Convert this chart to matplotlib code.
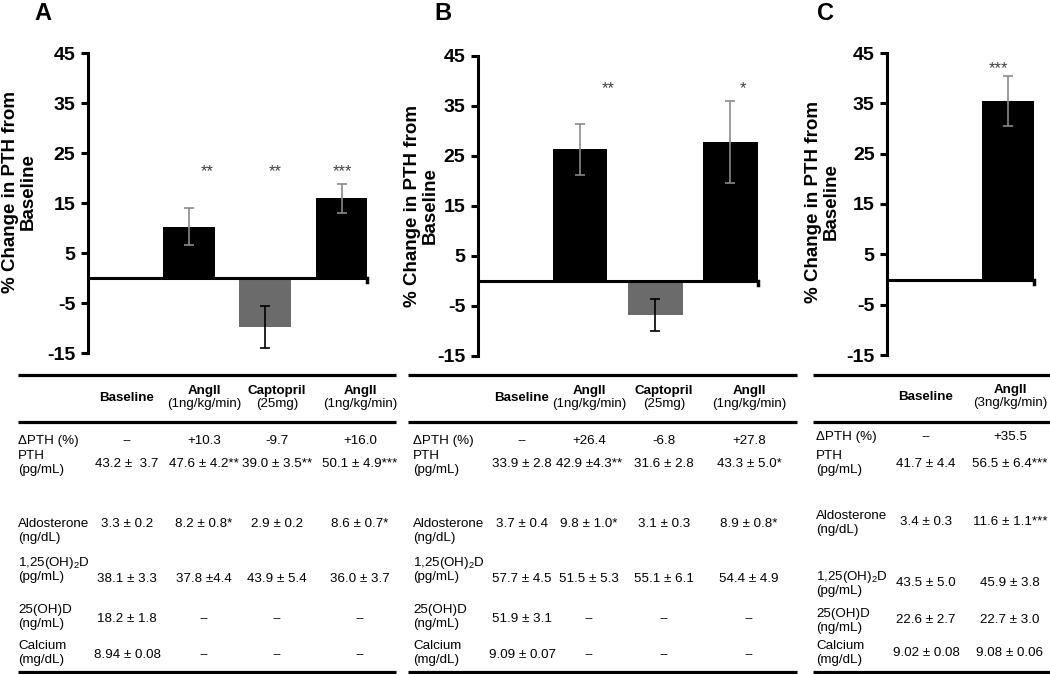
import matplotlib.pyplot as plt
import numpy as np

plt.rcParams['font.family'] = ['Liberation Sans', 'DejaVu Sans']
plt.rcParams['mathtext.default'] = 'regular'
plt.rcParams['axes.unicode_minus'] = False

W, H = 1050, 674

# percent change in PTH from baseline (bars), mean and SEM
a_groups = ['Baseline', 'AngII', 'Captopril', 'AngII']
a_change = [0.0, 10.3, -9.7, 16.0]
a_sem = [0.0, 3.7, 4.2, 2.9]
a_sig = ['', '**', '**', '***']

b_groups = ['Baseline', 'AngII', 'Captopril', 'AngII']
b_change = [0.0, 26.4, -6.8, 27.8]
b_sem = [0.0, 5.1, 3.2, 8.2]
b_sig = ['', '**', '', '*']

c_groups = ['Baseline', 'AngII']
c_change = [0.0, 35.5]
c_sem = [0.0, 5.0]
c_sig = ['', '***']

yticks = [-15, -5, 5, 15, 25, 35, 45]

# tables
row_labels = [('\u0394PTH (%)', ''), ('PTH', '(pg/mL)'), ('Aldosterone', '(ng/dL)'),
              ('1,25(OH)$_2$D', '(pg/mL)'), ('25(OH)D', '(ng/mL)'), ('Calcium', '(mg/dL)')]

a_doses = ['', '(1ng/kg/min)', '(25mg)', '(1ng/kg/min)']
a_cells = [['--', '+10.3', '-9.7', '+16.0'],
           ['43.2 \u00b1  3.7', '47.6 \u00b1 4.2**', '39.0 \u00b1 3.5**', '50.1 \u00b1 4.9***'],
           ['3.3 \u00b1 0.2', '8.2 \u00b1 0.8*', '2.9 \u00b1 0.2', '8.6 \u00b1 0.7*'],
           ['38.1 \u00b1 3.3', '37.8 \u00b14.4', '43.9 \u00b1 5.4', '36.0 \u00b1 3.7'],
           ['18.2 \u00b1 1.8', '--', '--', '--'],
           ['8.94 \u00b1 0.08', '--', '--', '--']]

b_doses = ['', '(1ng/kg/min)', '(25mg)', '(1ng/kg/min)']
b_cells = [['--', '+26.4', '-6.8', '+27.8'],
           ['33.9 \u00b1 2.8', '42.9 \u00b14.3**', '31.6 \u00b1 2.8', '43.3 \u00b1 5.0*'],
           ['3.7 \u00b1 0.4', '9.8 \u00b1 1.0*', '3.1 \u00b1 0.3', '8.9 \u00b1 0.8*'],
           ['57.7 \u00b1 4.5', '51.5 \u00b1 5.3', '55.1 \u00b1 6.1', '54.4 \u00b1 4.9'],
           ['51.9 \u00b1 3.1', '--', '--', '--'],
           ['9.09 \u00b1 0.07', '--', '--', '--']]

c_doses = ['', '(3ng/kg/min)']
c_cells = [['--', '+35.5'],
           ['41.7 \u00b1 4.4', '56.5 \u00b1 6.4***'],
           ['3.4 \u00b1 0.3', '11.6 \u00b1 1.1***'],
           ['43.5 \u00b1 5.0', '45.9 \u00b1 3.8'],
           ['22.6 \u00b1 2.7', '22.7 \u00b1 3.0'],
           ['9.02 \u00b1 0.08', '9.08 \u00b1 0.06']]

fig = plt.figure(figsize=(W / 100, H / 100), dpi=100)

# overlay in pixel coordinates for the tables and labels
ov = fig.add_axes([0, 0, 1, 1])
ov.set_xlim(0, W)
ov.set_ylim(H, 0)
ov.axis('off')

TFS = 9.6


def px_axes(l, t, r, b):
    return fig.add_axes([l / W, 1 - b / H, (r - l) / W, (b - t) / H])


def bar_panel(box, xlim, width, groups, change, sem, sig, star_y, star_dx,
              letter, letter_x, ylab_x, ylab_y):
    ax = px_axes(*box)
    x = np.arange(len(groups))
    for i in x[1:]:
        gray = groups[i] == 'Captopril'
        ax.bar(x[i], change[i], width=width, color='#6b6b6b' if gray else 'black',
               zorder=2)
        ax.errorbar(x[i], change[i], yerr=sem[i], fmt='none',
                    ecolor='black' if gray else '#8a8a8a', elinewidth=1.2,
                    capsize=3.5, capthick=1.2, zorder=3)
        if sig[i]:
            ax.text(x[i] + star_dx[i - 1], star_y, sig[i], ha='center', va='center',
                    fontsize=12, color='#404040')
    ax.axhline(0, color='black', lw=2.2, zorder=4)
    ax.plot([xlim[1], xlim[1]], [0, -0.8], color='black', lw=2.5, clip_on=False)
    ax.set_xlim(*xlim)
    ax.set_ylim(-15, 45)
    ax.set_yticks(yticks)
    ax.set_xticks([])
    for s in ['top', 'right', 'bottom']:
        ax.spines[s].set_visible(False)
    ax.spines['left'].set_linewidth(2.2)
    ax.tick_params(axis='y', length=5, width=2.2, pad=4, labelsize=14)
    for t in ax.get_yticklabels():
        t.set_fontweight('bold')
    ax.patch.set_alpha(0)
    ov.text(letter_x, 13, letter, ha='center', va='center', fontsize=17,
            fontweight='bold')
    ov.text(ylab_x, ylab_y, '% Change in PTH from\nBaseline', rotation=90,
            ha='center', va='center', multialignment='center', fontsize=13.5,
            fontweight='bold', linespacing=1.05)
    return ax


def draw_table(x0, x1, label_x, col_x, groups, doses, cells, rows, hdr_y):
    for y in (375, 422, 672):
        ov.plot([x0, x1], [y, y], color='black', lw=2.3, solid_capstyle='butt')
    for cx, g, d in zip(col_x, groups, doses):
        if d:
            ov.text(cx, hdr_y - 7, g, ha='center', va='center', fontsize=TFS,
                    fontweight='bold')
            ov.text(cx, hdr_y + 6, d, ha='center', va='center', fontsize=TFS)
        else:
            ov.text(cx, hdr_y, g, ha='center', va='center', fontsize=TFS,
                    fontweight='bold')
    for (l1, l2), (y1, y2, yv), vals in zip(row_labels, rows, cells):
        ov.text(label_x, y1, l1, ha='left', va='center', fontsize=TFS)
        if l2:
            ov.text(label_x, y2, l2, ha='left', va='center', fontsize=TFS)
        for cx, v in zip(col_x, vals):
            ov.text(cx, yv, v, ha='center', va='center', fontsize=TFS)


bar_panel((88, 53, 367, 353), (-0.32, 3.33), 0.68, a_groups, a_change, a_sem, a_sig,
          21.2, [0.24, 0.13, 0.01], 'A', 43, 19, 192)
bar_panel((478, 56, 758, 356), (-0.36, 3.37), 0.73, b_groups, b_change, b_sem, b_sig,
          38.4, [0.37, 0.0, 0.17], 'B', 443, 421, 206)
bar_panel((887, 53, 1034, 355), (-0.61, 1.35), 0.69, c_groups, c_change, c_sem, c_sig,
          41.8, [-0.13], 'C', 826, 822, 202)

rows_ab = [(441, 441, 441), (456, 470, 464), (524, 538, 524),
           (563, 577, 579), (610, 624, 619), (646, 660, 655)]
rows_c = [(437, 437, 437), (456, 470, 464), (516, 530, 522),
          (577, 591, 583), (614, 628, 620), (646, 660, 653)]

draw_table(18, 396, 18, [127, 204, 277, 360], a_groups, a_doses, a_cells, rows_ab, 398)
draw_table(408, 797, 413, [522, 589, 664, 749], b_groups, b_doses, b_cells, rows_ab, 398)
draw_table(813, 1050, 816, [926, 1010], c_groups, c_doses, c_cells, rows_c, 397)

fig.savefig('out.png', dpi=100)
